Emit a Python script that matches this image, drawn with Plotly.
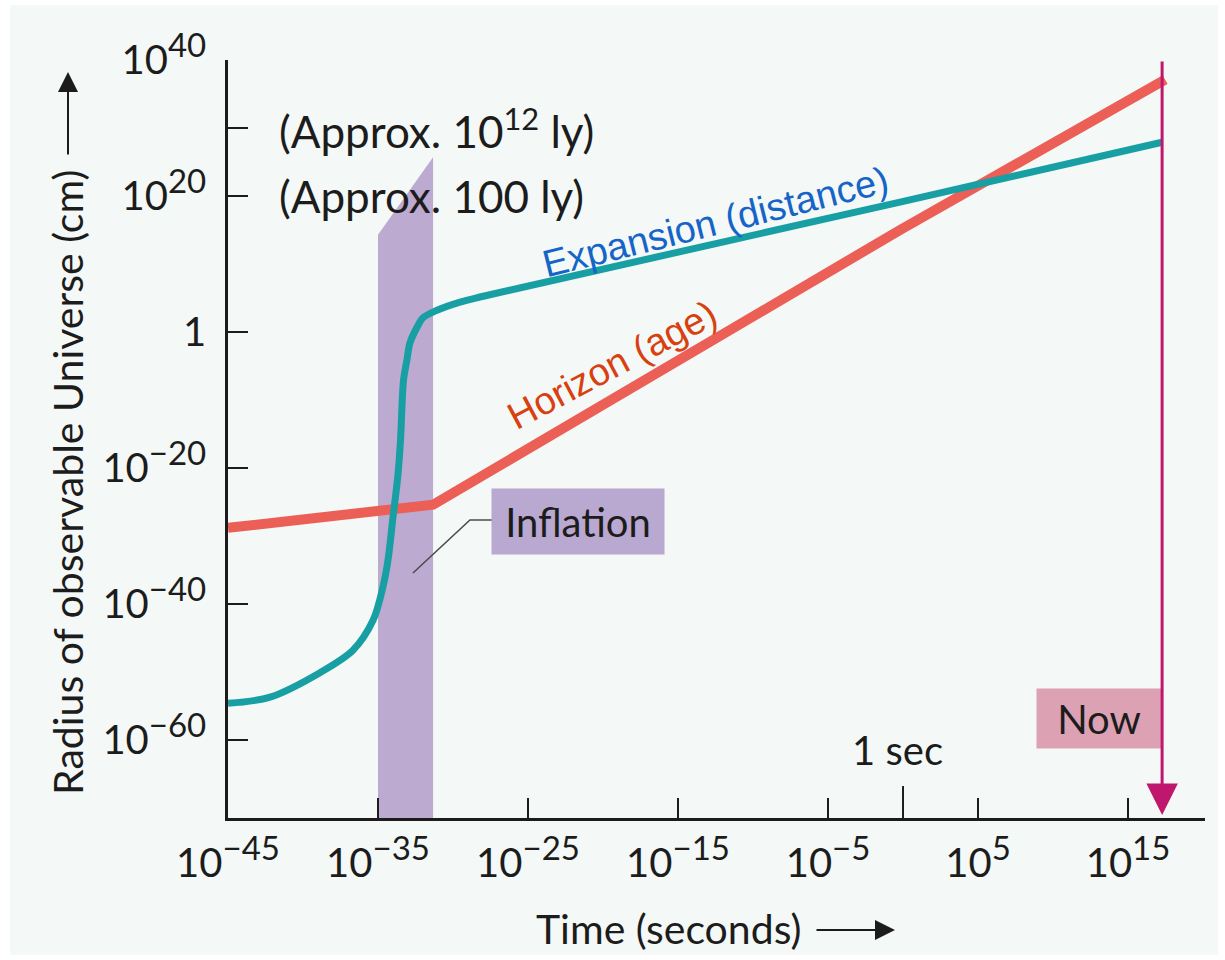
import plotly.graph_objects as go

# ---------------- data (log10 values) ----------------
expansion_log_t = [-45.0, -42.2, -38.87, -36.67, -35.33, -34.67, -34.33, -34.0, -33.67,
                   -33.5, -33.3, -33.07, -32.87, -32.4, -32.0, -31.07, -29.53, -28.2,
                   -0.2, 17.27]
expansion_log_r = [-54.6, -53.7, -50.1, -46.8, -42.4, -37.5, -33.5, -27.2, -21.0,
                   -15.9, -7.1, -4.1, -1.6, 0.7, 2.1, 3.2, 4.4, 5.15,
                   19.1, 27.9]

horizon_log_t = [-45.0, -31.33, -0.2, 17.47]
horizon_log_r = [-28.8, -25.4, 15.0, 37.1]

inflation_log_t = [-35.0, -31.33]          # start / end of inflation
inflation_top_log_r = [14.3, 25.7]         # top edge of shaded band
now_log_t = 17.27                          # age of the Universe

x_tick_exp = [-45, -35, -25, -15, -5, 5, 15]
y_tick_exp = [-60, -40, -20, 0, 20, 30, 40]
one_sec_log_t = 0

X_RANGE = [-45, 20.13]
Y_RANGE = [-71.47, 40]

MINUS = "\u2212"


def p10(v):
    return 10.0 ** float(v)


def pow_label(e):
    if e == 0:
        return "1"
    s = (MINUS + str(-e)) if e < 0 else str(e)
    return "10<sup><span style='font-size:33px'>" + s + "</span></sup>"


x_tick_text = [pow_label(e) for e in x_tick_exp]
y_tick_text = ["" if e == 30 else pow_label(e) for e in y_tick_exp]

TEAL = "#179fa4"
RED = "#ec5f56"
BAND = "#bcaad0"
INK = "#1c1c1c"
FONT = "Lato"

fig = go.Figure()

# inflation band
bx = [p10(inflation_log_t[0]), p10(inflation_log_t[0]), p10(inflation_log_t[1]), p10(inflation_log_t[1])]
by = [p10(Y_RANGE[0]), p10(inflation_top_log_r[0]), p10(inflation_top_log_r[1]), p10(Y_RANGE[0])]
fig.add_trace(go.Scatter(x=bx, y=by, fill="toself", fillcolor=BAND, mode="lines",
                         line=dict(width=0, color=BAND), hoverinfo="skip"))

# leader line for the Inflation label
fig.add_trace(go.Scatter(x=[p10(-27.13), p10(-28.87), p10(-32.67)],
                         y=[p10(-27.65), p10(-27.65), p10(-35.44)],
                         mode="lines", line=dict(color="#4a4a4a", width=1.5),
                         hoverinfo="skip"))

# horizon (age)
fig.add_trace(go.Scatter(x=[p10(v) for v in horizon_log_t],
                         y=[p10(v) for v in horizon_log_r],
                         mode="lines", line=dict(color=RED, width=10),
                         hoverinfo="skip"))

# expansion (distance)
fig.add_trace(go.Scatter(x=[p10(v) for v in expansion_log_t],
                         y=[p10(v) for v in expansion_log_r],
                         mode="lines", line=dict(color=TEAL, width=7, shape="spline", smoothing=0.9),
                         hoverinfo="skip"))

# 1 sec tick (longer)
fig.add_trace(go.Scatter(x=[p10(one_sec_log_t), p10(one_sec_log_t)],
                         y=[p10(Y_RANGE[0]), p10(Y_RANGE[0] + 4.7)],
                         mode="lines", line=dict(color=INK, width=2),
                         hoverinfo="skip"))

annotations = []

# y-axis side notes
annotations.append(dict(x=-41.73, y=30, xref="x", yref="y", xanchor="left", yanchor="middle",
                        text="(Approx. 10<sup>12</sup> ly)", showarrow=False,
                        font=dict(family=FONT, size=44, color=INK)))
annotations.append(dict(x=-41.73, y=20, xref="x", yref="y", xanchor="left", yanchor="middle",
                        text="(Approx. 100 ly)", showarrow=False,
                        font=dict(family=FONT, size=44, color=INK)))

# 1 sec
annotations.append(dict(x=-0.4, y=-61.47, xref="x", yref="y", text="1 sec", showarrow=False,
                        xanchor="center", yanchor="middle",
                        font=dict(family=FONT, size=40, color=INK)))

# Inflation label box
annotations.append(dict(x=-21.67, y=-27.87, xref="x", yref="y", text="Inflation", showarrow=False,
                        xanchor="center", yanchor="middle",
                        width=170, height=63, bgcolor="#b9a8cf",
                        font=dict(family=FONT, size=40, color=INK)))

# Now label box
annotations.append(dict(x=13.07, y=-56.84, xref="x", yref="y", text="Now", showarrow=False,
                        xanchor="center", yanchor="middle",
                        width=122, height=57, bgcolor="#dca2b4",
                        font=dict(family=FONT, size=40, color=INK)))

# Now arrow
annotations.append(dict(x=now_log_t, y=-71.03, xref="x", yref="y",
                        ax=now_log_t, ay=40, axref="x", ayref="y",
                        text="", showarrow=True, arrowhead=2, arrowsize=2.1,
                        arrowwidth=3, arrowcolor="#c0176e"))

# curve labels
annotations.append(dict(x=-12.53, y=16.18, xref="x", yref="y", text="Expansion (distance)",
                        showarrow=False, textangle=-14, xanchor="center", yanchor="middle",
                        font=dict(family="Liberation Sans", size=38, color="#1565c8")))
annotations.append(dict(x=-19.4, y=-4.85, xref="x", yref="y", text="Horizon (age)",
                        showarrow=False, textangle=-28, xanchor="center", yanchor="middle",
                        font=dict(family="Liberation Sans", size=38, color="#d8400f")))

# axis titles
annotations.append(dict(x=(68 - 228) / 977, y=(818 - 483) / 758, xref="paper", yref="paper",
                        textangle=-90, xanchor="center", yanchor="middle",
                        text="Radius of observable Universe (cm)", showarrow=False,
                        font=dict(family=FONT, size=41, color=INK)))
annotations.append(dict(x=(68 - 228) / 977, y=(818 - 72) / 758, xref="paper", yref="paper",
                        ax=0, ay=84,
                        text="", showarrow=True, arrowhead=2, arrowsize=2, arrowwidth=2,
                        arrowcolor=INK))
annotations.append(dict(x=(668 - 228) / 977, y=(818 - 928) / 758, xref="paper", yref="paper",
                        xanchor="center", yanchor="middle",
                        text="Time (seconds)", showarrow=False,
                        font=dict(family=FONT, size=41, color=INK)))
annotations.append(dict(x=(895 - 228) / 977, y=(818 - 930) / 758, xref="paper", yref="paper",
                        ax=-80, ay=0,
                        text="", showarrow=True, arrowhead=2, arrowsize=2, arrowwidth=2,
                        arrowcolor=INK))

fig.update_layout(
    width=1225, height=960, autosize=False,
    margin=dict(l=228, r=20, t=60, b=142),
    paper_bgcolor="white",
    plot_bgcolor="rgba(0,0,0,0)",
    showlegend=False,
    hovermode=False,
    annotations=annotations,
    shapes=[dict(type="rect", xref="paper", yref="paper",
                 x0=(10 - 228) / 977, x1=(1218 - 228) / 977,
                 y0=(818 - 955) / 758, y1=(818 - 5) / 758,
                 fillcolor="#f4f8f6", line=dict(width=0), layer="below")],
)

fig.update_xaxes(type="log", range=X_RANGE, showline=True, linecolor=INK, linewidth=2.5,
                 ticks="inside", ticklen=20, tickwidth=2, tickcolor=INK,
                 tickvals=[p10(e) for e in x_tick_exp], ticktext=x_tick_text,
                 tickfont=dict(family=FONT, size=40, color=INK),
                 ticklabelstandoff=8,
                 showgrid=False, zeroline=False, mirror=False)
fig.update_yaxes(type="log", range=Y_RANGE, showline=True, linecolor=INK, linewidth=2.5,
                 ticks="inside", ticklen=20, tickwidth=2, tickcolor=INK,
                 tickvals=[p10(e) for e in y_tick_exp], ticktext=y_tick_text,
                 tickfont=dict(family=FONT, size=40, color=INK),
                 ticklabelstandoff=11,
                 showgrid=False, zeroline=False, mirror=False)

fig.write_html("out.html")
